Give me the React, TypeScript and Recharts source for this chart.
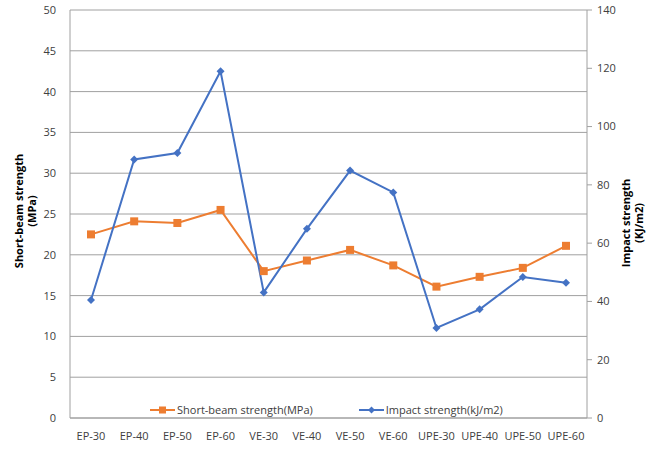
import React from "react";
import { ComposedChart, Line, XAxis, YAxis, CartesianGrid } from "recharts";

const categories = ["EP-30", "EP-40", "EP-50", "EP-60", "VE-30", "VE-40", "VE-50", "VE-60", "UPE-30", "UPE-40", "UPE-50", "UPE-60"];
const shortBeam = [22.5, 24.1, 23.9, 25.5, 18.0, 19.3, 20.6, 18.7, 16.1, 17.3, 18.4, 21.1];
const impact = [40.5, 88.7, 90.9, 119.0, 43.1, 64.9, 84.9, 77.4, 30.9, 37.3, 48.4, 46.4];
const leftTicks = [0, 5, 10, 15, 20, 25, 30, 35, 40, 45, 50];
const rightTicks = [0, 20, 40, 60, 80, 100, 120, 140];

const data = categories.map((c, i) => ({ name: c, sb: shortBeam[i], imp: impact[i] }));

const ORANGE = "#ED7D31";
const BLUE = "#4472C4";
const TEXT = "#404040";
const FONT = "'Open Sans', sans-serif";

const Square = (props: any) => {
  const { cx, cy } = props;
  if (cx == null || cy == null) return null;
  return <rect x={cx - 4} y={cy - 4} width={8} height={8} fill={ORANGE} />;
};

const Diamond = (props: any) => {
  const { cx, cy } = props;
  if (cx == null || cy == null) return null;
  return <path d={`M${cx},${cy - 4}L${cx + 4},${cy}L${cx},${cy + 4}L${cx - 4},${cy}Z`} fill={BLUE} />;
};

function AxisTitle({ lines, x, cy }: any) {
  return (
    <text transform={`rotate(-90 ${x} ${cy})`} x={x} y={cy} textAnchor="middle" fontFamily={FONT} fontSize={11} fontWeight="bold" fill="#000">
      <tspan x={x} dy={0}>{lines[0]}</tspan>
      <tspan x={x} dy={13}>{lines[1]}</tspan>
    </text>
  );
}

function LegendBox() {
  const item = (color: string, label: string, marker: React.ReactNode, mr: number) => (
    <div style={{ display: "flex", alignItems: "center", marginRight: mr }}>
      <svg width={25} height={10}>
        <line x1={0} y1={5} x2={25} y2={5} stroke={color} strokeWidth={2} />
        {marker}
      </svg>
      <span style={{ marginLeft: 2 }}>{label}</span>
    </div>
  );
  return (
    <div style={{ position: "absolute", left: 150, top: 402, display: "flex", fontFamily: FONT, fontSize: 11, color: TEXT, whiteSpace: "nowrap" }}>
      {item(ORANGE, "Short-beam strength(MPa)", <rect x={9} y={1.5} width={7} height={7} fill={ORANGE} />, 46)}
      {item(BLUE, "Impact strength(kJ/m2)", <path d="M12.5,1.5L16,5L12.5,8.5L9,5Z" fill={BLUE} />, 0)}
    </div>
  );
}

export default function App() {
  return (
    <div style={{ position: "absolute", left: 0, top: 0, width: 661, height: 451, background: "#fff" }}>
      <ComposedChart width={661} height={451} data={data} margin={{ top: 10, right: 0, left: 0, bottom: 0 }}>
        <CartesianGrid horizontal vertical={false} stroke="#a0a0a0" strokeWidth={1} yAxisId="left" />
        <XAxis
          dataKey="name"
          height={33}
          padding={{ left: 21, right: 21 }}
          tick={{ fill: TEXT, fontSize: 11, fontFamily: FONT }}
          tickLine={false}
          axisLine={{ stroke: "#a0a0a0" }}
          interval={0}
          tickMargin={8}
        />
        <YAxis
          yAxisId="left"
          width={70}
          domain={[0, 50]}
          ticks={leftTicks}
          tick={{ fill: TEXT, fontSize: 11, fontFamily: FONT }}
          tickLine={false}
          axisLine={{ stroke: "#a0a0a0" }}
          tickMargin={8}
          label={{ content: () => <AxisTitle x={23} cy={211} lines={["Short-beam strength", "(MPa)"]} /> }}
        />
        <YAxis
          yAxisId="right"
          orientation="right"
          width={74}
          domain={[0, 140]}
          ticks={rightTicks}
          tick={{ fill: TEXT, fontSize: 11, fontFamily: FONT }}
          tickLine={{ stroke: "#a0a0a0" }}
          tickSize={5}
          axisLine={{ stroke: "#a0a0a0" }}
          tickMargin={5}
          label={{ content: () => <AxisTitle x={630} cy={223} lines={["Impact strength", "(KJ/m2)"]} /> }}
        />
        <Line yAxisId="left" dataKey="sb" stroke={ORANGE} strokeWidth={2} dot={<Square />} activeDot={false} isAnimationActive={false} />
        <Line yAxisId="right" dataKey="imp" stroke={BLUE} strokeWidth={2} dot={<Diamond />} activeDot={false} isAnimationActive={false} />
      </ComposedChart>
      <LegendBox />
    </div>
  );
}
